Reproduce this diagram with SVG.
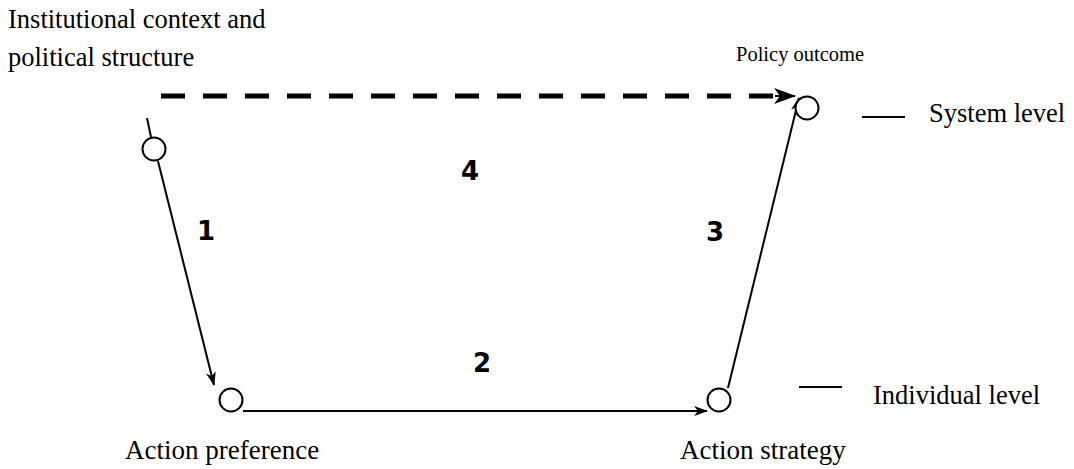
<svg xmlns="http://www.w3.org/2000/svg" width="1074" height="469" viewBox="0 0 1074 469">
<style>
.t{font-family:"Liberation Serif","Times New Roman",serif;font-size:26.5px;fill:#000}
.s{font-family:"Liberation Serif","Times New Roman",serif;font-size:20.5px;fill:#000}
.b{font-family:"Liberation Serif","Times New Roman",serif;font-size:27px;fill:#000}
.n{font-family:"DejaVu Sans",Verdana,sans-serif;font-weight:bold;font-size:26px;fill:#000}
.node{fill:#fff;stroke:#000;stroke-width:2}
.c{stroke:#000;stroke-width:2;fill:none}
</style>
<defs>
<marker id="ah" markerWidth="14" markerHeight="10" refX="13" refY="5" orient="auto" markerUnits="userSpaceOnUse">
<path d="M0,0 L14,5 L0,10 L4,5 Z" fill="#000"/>
</marker>
<marker id="ahd" markerWidth="22" markerHeight="16" refX="21" refY="8" orient="auto" markerUnits="userSpaceOnUse">
<path d="M0,0 L22,8 L0,16 L6,8 Z" fill="#000"/>
</marker>
</defs>
<g id="connectors">
<line class="c" x1="147" y1="118" x2="151" y2="137"/>
<line class="c" x1="158" y1="161" x2="214" y2="385" marker-end="url(#ah)"/>
<line class="c" x1="243" y1="411" x2="707" y2="411" marker-end="url(#ah)"/>
<line class="c" x1="728" y1="388" x2="799" y2="98" marker-end="url(#ah)"/>
<line x1="161" y1="96" x2="775" y2="96" stroke="#000" stroke-width="5" stroke-dasharray="24 18"/>
<line x1="775" y1="96" x2="795" y2="96" stroke="#000" stroke-width="2" marker-end="url(#ahd)"/>
<line class="c" x1="862" y1="117" x2="905" y2="117"/>
<line class="c" x1="799" y1="387" x2="842" y2="387"/>
</g>
<g id="institutional">
<circle class="node" cx="154" cy="149" r="11.5"/>
<text class="t" x="8" y="28">Institutional context and</text>
<text class="t" x="8" y="66">political structure</text>
</g>
<g id="preference">
<circle class="node" cx="231" cy="400" r="11.5"/>
<text class="b" x="125" y="459">Action preference</text>
</g>
<g id="strategy">
<circle class="node" cx="719" cy="400" r="11.5"/>
<text class="b" x="680" y="459">Action strategy</text>
</g>
<g id="outcome">
<circle class="node" cx="807" cy="108" r="11.5"/>
<text class="s" x="736" y="61">Policy outcome</text>
</g>
<g id="legend">
<text class="t" x="929" y="122">System level</text>
<text class="t" x="873" y="404">Individual level</text>
</g>
<g id="labels">
<text class="n" x="197" y="240">1</text>
<text class="n" x="473" y="372">2</text>
<text class="n" x="706" y="241">3</text>
<text class="n" x="461" y="180">4</text>
</g>
</svg>
